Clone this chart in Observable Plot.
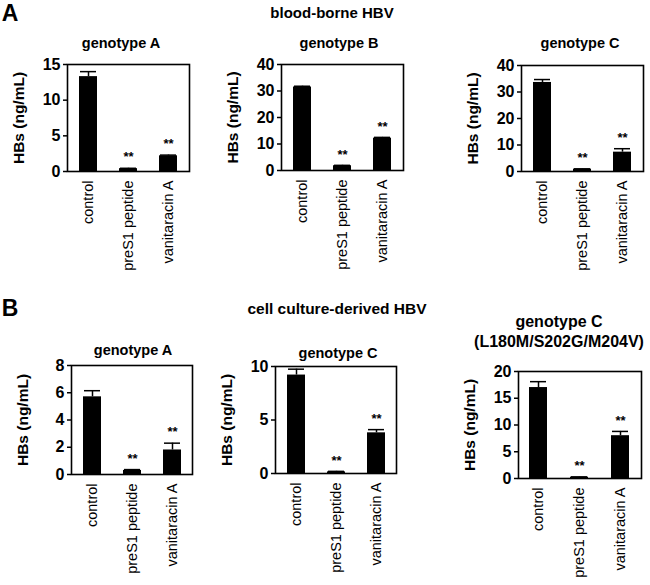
<!DOCTYPE html>
<html><head><meta charset="utf-8">
<script src="https://cdn.jsdelivr.net/npm/d3@7"></script>
<script src="https://cdn.jsdelivr.net/npm/@observablehq/plot@0.6"></script>
<style>
body{margin:0;background:#fff}
#fig{position:relative;width:650px;height:585px;background:#fff;font-family:"Liberation Sans",Arial,Helvetica,sans-serif;color:#000;overflow:hidden}
.t{position:absolute;white-space:nowrap;transform:translate(-50%,-50%);font-weight:bold;line-height:1.25;text-align:center}
.p{position:absolute}
</style></head><body><div id="fig"></div>
<script>
// ---- data ----
const treatments = ["control", "preS1 peptide", "vanitaracin A"];
const panelTitles = ["genotype A", "genotype B", "genotype C", "genotype A", "genotype C", "genotype C\n(L180M/S202G/M204V)"];
const rowLabels = ["A", "B"];
const rowTitles = ["blood-borne HBV", "cell culture-derived HBV"];
const yLabel = "HBs (ng/mL)";
const yMax = [15, 40, 40, 8, 10, 20];
const yTicks = [[0, 5, 10, 15], [0, 10, 20, 30, 40], [0, 10, 20, 30, 40], [0, 2, 4, 6, 8], [0, 5, 10], [0, 5, 10, 15, 20]];
const means = [
  [13.3, 0.4, 2.2],
  [31.5, 1.8, 12.2],
  [33.6, 0.9, 7.3],
  [5.7, 0.3, 1.8],
  [9.2, 0.15, 3.8],
  [17.0, 0.25, 8.0]
];
const errors = [
  [0.7, 0.05, 0.1],
  [0.3, 0.15, 0.3],
  [1.1, 0.1, 1.3],
  [0.45, 0.06, 0.5],
  [0.55, 0.05, 0.3],
  [1.1, 0.05, 0.8]
];
const significance = [
  ["", "**", "**"], ["", "**", "**"], ["", "**", "**"],
  ["", "**", "**"], ["", "**", "**"], ["", "**", "**"]
];

// ---- layout (frame positions in page pixels) ----
const layout = [
  {x: 67, y: 64, w: 122, h: 107, tx: 121, ty: 43, ts: 14.5},
  {x: 281, y: 64, w: 122, h: 106, tx: 339, ty: 43, ts: 14.5},
  {x: 521, y: 65, w: 122, h: 106, tx: 580, ty: 43, ts: 14.5},
  {x: 71, y: 365, w: 121, h: 109, tx: 133, ty: 350, ts: 14.5},
  {x: 275, y: 366, w: 121, h: 107, tx: 338, ty: 353, ts: 14.5},
  {x: 518, y: 371, w: 123, h: 107, tx: 559, ty: 332, ts: 16}
];
const rowLabelPos = [{x: 10, y: 13, s: 23}, {x: 10, y: 308, s: 23}];
const rowTitlePos = [{x: 332, y: 13, s: 15}, {x: 337, y: 309, s: 15.5}];

const fig = document.getElementById("fig");
function addText(text, x, y, size) {
  const d = document.createElement("div");
  d.className = "t";
  d.style.left = x + "px";
  d.style.top = y + "px";
  d.style.fontSize = size + "px";
  d.innerHTML = text.split("\n").join("<br>");
  fig.appendChild(d);
}
rowLabels.forEach((t, i) => addText(t, rowLabelPos[i].x, rowLabelPos[i].y, rowLabelPos[i].s));
rowTitles.forEach((t, i) => addText(t, rowTitlePos[i].x, rowTitlePos[i].y, rowTitlePos[i].s));
panelTitles.forEach((t, i) => addText(t, layout[i].tx, layout[i].ty, layout[i].ts));

const font = '"Liberation Sans", Arial, Helvetica, sans-serif';
layout.forEach((L, i) => {
  const mL = 70, mT = 6, mR = 6, mB = 112;
  const rows = treatments.map((t, j) => ({treatment: t, mean: means[i][j], top: means[i][j] + errors[i][j], sig: significance[i][j]}));
  const chart = Plot.plot({
    width: mL + L.w + mR,
    height: mT + L.h + mB,
    marginLeft: mL, marginTop: mT, marginRight: mR, marginBottom: mB,
    style: {fontFamily: font, color: "#000", background: "transparent", overflow: "visible"},
    x: {domain: treatments, paddingInner: 0.56, paddingOuter: 0.28},
    y: {domain: [0, yMax[i]]},
    marks: [
      Plot.ruleX(rows, {x: "treatment", y1: "mean", y2: "top", stroke: "#000", strokeWidth: 1.5}),
      Plot.tickY(rows, {x: "treatment", y: "top", stroke: "#000", strokeWidth: 1.5, insetLeft: 1, insetRight: 1}),
      Plot.barY(rows, {x: "treatment", y: "mean", fill: "#000"}),
      Plot.text(rows, {x: "treatment", y: "top", text: "sig", dy: -11, fontSize: 13, fontWeight: "bold", lineAnchor: "middle"}),
      Plot.frame({stroke: "#000", strokeWidth: 1.6}),
      Plot.axisY({ticks: yTicks[i], tickSize: 4, tickPadding: 3, fontSize: 16, fontWeight: "bold", strokeWidth: 1.5, label: null}),
      Plot.text([yLabel], {frameAnchor: "left", textAnchor: "middle", rotate: -90, dx: -48, fontSize: 15.5, fontWeight: "bold", lineAnchor: "middle"}),
      Plot.axisX({tickSize: 0, tickRotate: -90, tickPadding: 9, fontSize: 14.5, label: null})
    ]
  });
  const wrap = document.createElement("div");
  wrap.className = "p";
  wrap.style.left = (L.x - mL) + "px";
  wrap.style.top = (L.y - mT) + "px";
  wrap.appendChild(chart);
  fig.appendChild(wrap);
});
</script></body></html>
